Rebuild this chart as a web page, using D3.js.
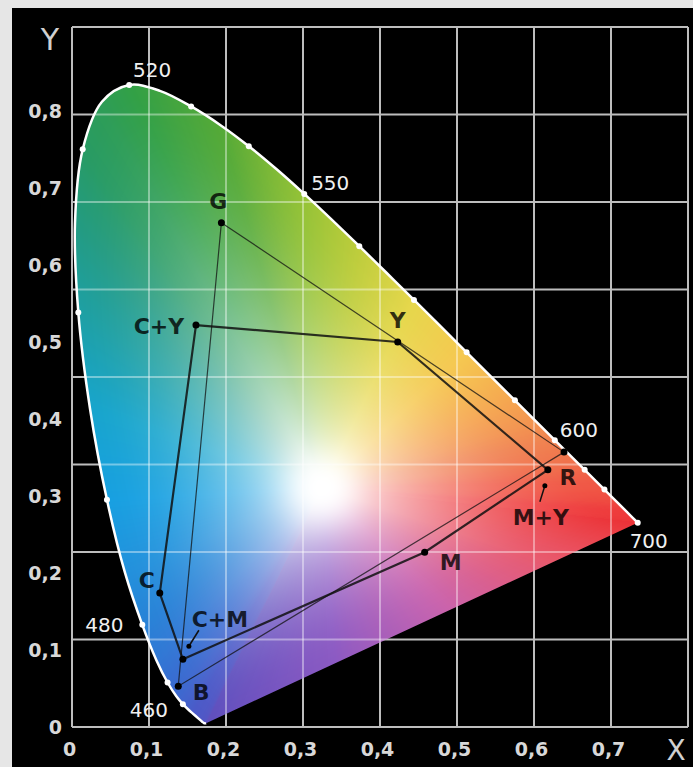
<!DOCTYPE html>
<html>
<head>
<meta charset="utf-8">
<script src="https://cdn.jsdelivr.net/npm/d3@7"></script>
<style>
    body { margin: 0; background: #e6e6e6; }
    svg { display: block; font-family: "DejaVu Sans", Verdana, sans-serif; }
    .tick text { fill: #d8d8d8; font-size: 19px; font-weight: bold; font-family: "DejaVu Sans", Verdana, sans-serif; }
    .wave { fill: #f0f0f0; font-size: 20px; }
    .vname { font-size: 22px; font-weight: bold; fill: #000; fill-opacity: 0.78; }
</style>
</head>
<body>
<svg id="chart"></svg>
<script>
// spectral locus (CIE 1931, 2 deg) - wavelength, x, y
var locusNm = [380, 390, 400, 410, 420, 430, 440, 450, 455, 460, 465, 470, 475, 480, 485, 490, 495, 500, 505, 510,
    515, 520, 525, 530, 535, 540, 545, 550, 555, 560, 565, 570, 575, 580, 585, 590, 595, 600, 605, 610,
    615, 620, 630, 640, 650, 660, 680, 700];
var locusX = [0.1741, 0.1738, 0.1733, 0.1726, 0.1714, 0.1689, 0.1644, 0.1566, 0.1510, 0.1440, 0.1355, 0.1241, 0.1096, 0.0913, 0.0687, 0.0454, 0.0235, 0.0082, 0.0039, 0.0139,
    0.0389, 0.0743, 0.1142, 0.1547, 0.1929, 0.2296, 0.2658, 0.3016, 0.3373, 0.3731, 0.4087, 0.4441, 0.4788, 0.5125, 0.5448, 0.5752, 0.6029, 0.6270, 0.6482, 0.6658,
    0.6801, 0.6915, 0.7079, 0.7190, 0.7260, 0.7300, 0.7334, 0.7347];
var locusY = [0.0050, 0.0049, 0.0048, 0.0048, 0.0051, 0.0069, 0.0109, 0.0177, 0.0227, 0.0297, 0.0399, 0.0578, 0.0868, 0.1327, 0.2007, 0.2950, 0.4127, 0.5384, 0.6548, 0.7502,
    0.8120, 0.8338, 0.8262, 0.8059, 0.7816, 0.7543, 0.7243, 0.6923, 0.6589, 0.6245, 0.5896, 0.5547, 0.5202, 0.4866, 0.4544, 0.4242, 0.3965, 0.3725, 0.3514, 0.3340,
    0.3197, 0.3083, 0.2920, 0.2809, 0.2740, 0.2700, 0.2666, 0.2653];

// white dots on the locus and the wavelengths that get a label
var markNm = [460, 470, 480, 490, 500, 510, 520, 530, 540, 550, 560, 570, 580, 590, 600, 610, 620, 700];
var waveNm = [460, 480, 520, 550, 600, 700];

// printing inks (thick hexagon) and screen primaries (thin triangle)
var cmyNames = ["C+Y", "Y", "M+Y", "M", "C+M", "C"];
var cmyX = [0.161, 0.423, 0.618, 0.458, 0.144, 0.114];
var cmyY = [0.522, 0.500, 0.334, 0.227, 0.088, 0.174];
var rgbNames = ["G", "R", "B"];
var rgbX = [0.194, 0.639, 0.138];
var rgbY = [0.655, 0.357, 0.053];

// axes
var xTicks = [0, 0.1, 0.2, 0.3, 0.4, 0.5, 0.6, 0.7];
var xTickLabels = ["0", "0,1", "0,2", "0,3", "0,4", "0,5", "0,6", "0,7"];
var yTicks = [0, 0.1, 0.2, 0.3, 0.4, 0.5, 0.6, 0.7, 0.8];
var yTickLabels = ["0", "0,1", "0,2", "0,3", "0,4", "0,5", "0,6", "0,7", "0,8"];
var xGrid = [0, 0.1, 0.2, 0.3, 0.4, 0.5, 0.6, 0.7, 0.8];
var gridRows = [0, 1, 2, 3, 4, 5, 6, 7, 8];

// colours painted along the border of the diagram (style)
var edgeNm = [380, 450, 470, 480, 490, 495, 500, 505, 510, 520, 535, 550, 560, 570, 580, 590, 600, 615, 640, 700];
var edgeCol = ["#5f50be", "#4b5ac8", "#376ed2", "#2882d7", "#18a0e1", "#18a5cd", "#1ea0a5", "#239b82", "#289b64", "#32a046",
    "#55aa37", "#96c337", "#becd3c", "#e6d74b", "#f5c850", "#f5a550", "#f08250", "#f05a46", "#ee3c3c", "#eb3237"];
var purpleT = [0, 0.2, 0.45, 0.7, 1];
var purpleCol = ["#eb3237", "#e85a6e", "#c864af", "#8c5ac3", "#5f50be"];
var whitePoint = [0.325, 0.31];

var width = 693, height = 767;

var xScale = d3.scaleLinear().domain([0, 0.8]).range([72, 688]);
var yScale = d3.scaleLinear().domain([0, 0.8]).range([727, 111]);
// the horizontal grid in the picture is its own 8 rows, not tied to the y labels
var rowScale = d3.scaleLinear().domain([0, 8]).range([727, 27]);

var svg = d3.select("#chart").attr("width", width).attr("height", height);

svg.append("rect").attr("width", width).attr("height", height).attr("fill", "#e6e6e6");
svg.append("rect").attr("x", 12).attr("y", 8).attr("width", width - 12).attr("height", height - 8).attr("fill", "#000");

var locus = locusNm.map(function (d, i) { return { nm: d, x: locusX[i], y: locusY[i] }; });

var line = d3.line()
    .x(function (d) { return xScale(d.x); })
    .y(function (d) { return yScale(d.y); })
    .curve(d3.curveCatmullRom);

function drawGrid(g, color, opacity) {
    g.selectAll(".vg").data(xGrid).enter().append("line")
        .attr("x1", function (d) { return xScale(d); })
        .attr("x2", function (d) { return xScale(d); })
        .attr("y1", rowScale(8)).attr("y2", rowScale(0))
        .attr("stroke", color).attr("stroke-opacity", opacity).attr("stroke-width", 2);
    g.selectAll(".hg").data(gridRows).enter().append("line")
        .attr("x1", xScale(0)).attr("x2", xScale(0.8))
        .attr("y1", function (d) { return rowScale(d); })
        .attr("y2", function (d) { return rowScale(d); })
        .attr("stroke", color).attr("stroke-opacity", opacity).attr("stroke-width", 2);
}

//grid under the colour field
drawGrid(svg.append("g"), "#bdbdbd", 1);

svg.append("clipPath").attr("id", "locusClip")
    .append("path").attr("d", line(locus) + "Z");

// ---- colour field ----
// border vertices with a colour each: locus, then the purple line back to 380
var edgeScale = d3.scaleLinear().domain(edgeNm).range(edgeCol).interpolate(d3.interpolateLab);
var purpleScale = d3.scaleLinear().domain(purpleT).range(purpleCol).interpolate(d3.interpolateLab);
var border = locus.map(function (d) { return { x: d.x, y: d.y, c: d3.rgb(edgeScale(d.nm)) }; });
var pA = locus[locus.length - 1], pB = locus[0];
for (var s = 1; s < 30; s++) {
    var t = s / 30;
    border.push({ x: pA.x + (pB.x - pA.x) * t, y: pA.y + (pB.y - pA.y) * t, c: d3.rgb(purpleScale(t)) });
}

// for each direction from the white point: distance to the border and its colour
var nBins = 1440, binDist = [], binCol = [];
for (var k = 0; k < nBins; k++) {
    var a = k / nBins * 2 * Math.PI, ux = Math.cos(a), uy = Math.sin(a);
    var best = Infinity, bc = null;
    for (var j = 0; j < border.length; j++) {
        var P = border[j], Q = border[(j + 1) % border.length];
        var ex = Q.x - P.x, ey = Q.y - P.y;
        var den = ux * ey - uy * ex;
        if (Math.abs(den) < 1e-12) continue;
        var wx = P.x - whitePoint[0], wy = P.y - whitePoint[1];
        var sRay = (wx * ey - wy * ex) / den;
        var r = (wx * uy - wy * ux) / den;
        if (sRay > 0 && r >= 0 && r <= 1 && sRay < best) {
            best = sRay;
            bc = d3.interpolateRgb(P.c, Q.c)(r);
        }
    }
    binDist.push(best);
    binCol.push(d3.rgb(bc));
}

function fieldColor(x, y) {
    var dx = x - whitePoint[0], dy = y - whitePoint[1];
    var d = Math.sqrt(dx * dx + dy * dy);
    var a = Math.atan2(dy, dx);
    if (a < 0) a += 2 * Math.PI;
    var k = Math.round(a / (2 * Math.PI) * nBins) % nBins;
    var t = Math.min(d / binDist[k], 1);
    var f = 1 - Math.pow(1 - t, 1.8);
    var glow = Math.exp(-(d * d) / (0.045 * 0.045));
    var e = binCol[k];
    return [e.r, e.g, e.b].map(function (v) {
        var c = 255 * (1 - f) + v * f;
        return c * (1 - glow) + 255 * glow;
    });
}

var canvas = document.createElement("canvas");
canvas.width = width; canvas.height = height;
var ctx = canvas.getContext("2d");
var img = ctx.createImageData(width, height);
for (var py = 60; py < 730; py++) {
    for (var px = 68; px < 660; px++) {
        var col = fieldColor(xScale.invert(px + 0.5), yScale.invert(py + 0.5));
        var q = (py * width + px) * 4;
        img.data[q] = col[0]; img.data[q + 1] = col[1]; img.data[q + 2] = col[2]; img.data[q + 3] = 255;
    }
}
ctx.putImageData(img, 0, 0);

svg.append("image")
    .attr("href", canvas.toDataURL())
    .attr("width", width).attr("height", height)
    .attr("clip-path", "url(#locusClip)");

//grid again on top of the colours, lighter
drawGrid(svg.append("g").attr("clip-path", "url(#locusClip)"), "#fff", 0.4);

// white locus line and wavelength dots
svg.append("path")
    .datum(locus)
    .attr("d", line)
    .attr("fill", "none")
    .attr("stroke", "#fff")
    .attr("stroke-width", 2.5);

var byNm = {};
locus.forEach(function (d) { byNm[d.nm] = d; });

svg.selectAll(".mark")
    .data(markNm)
    .enter().append("circle")
    .attr("cx", function (d) { return xScale(byNm[d].x); })
    .attr("cy", function (d) { return yScale(byNm[d].y); })
    .attr("r", 3)
    .attr("fill", "#fff");

var waveOffset = { 460: [-34, 13], 480: [-38, 7], 520: [23, -8], 550: [26, -4], 600: [24, -3], 700: [11, 25] };
svg.selectAll(".wave")
    .data(waveNm)
    .enter().append("text")
    .attr("class", "wave")
    .attr("text-anchor", "middle")
    .attr("x", function (d) { return xScale(byNm[d].x) + waveOffset[d][0]; })
    .attr("y", function (d) { return yScale(byNm[d].y) + waveOffset[d][1]; })
    .text(function (d) { return d; });

// gamut outlines
var cmy = cmyNames.map(function (d, i) { return { name: d, x: cmyX[i], y: cmyY[i] }; });
var rgb = rgbNames.map(function (d, i) { return { name: d, x: rgbX[i], y: rgbY[i] }; });

var poly = d3.line()
    .x(function (d) { return xScale(d.x); })
    .y(function (d) { return yScale(d.y); });

svg.append("path")
    .attr("d", poly(rgb) + "Z")
    .attr("fill", "none")
    .attr("stroke", "#111")
    .attr("stroke-opacity", 0.75)
    .attr("stroke-width", 1.2);

svg.append("path")
    .attr("d", poly(cmy) + "Z")
    .attr("fill", "none")
    .attr("stroke", "#111")
    .attr("stroke-opacity", 0.85)
    .attr("stroke-width", 2.2);

var pts = cmy.concat(rgb);
svg.selectAll(".vtx")
    .data(pts)
    .enter().append("circle")
    .attr("cx", function (d) { return xScale(d.x); })
    .attr("cy", function (d) { return yScale(d.y); })
    .attr("r", 3.5)
    .attr("fill", "#000");

// label offsets from their points, plus the little pointers for M+Y and C+M
var nameOffset = {
    "G": [-3, -14], "C+Y": [-37, 9], "Y": [0, -14], "R": [4, 33], "M+Y": [-7, 55],
    "M": [26, 18], "C+M": [37, -32], "C": [-13, -5], "B": [23, 14]
};
svg.selectAll(".vname")
    .data(pts)
    .enter().append("text")
    .attr("class", "vname")
    .attr("text-anchor", "middle")
    .attr("x", function (d) { return xScale(d.x) + nameOffset[d.name][0]; })
    .attr("y", function (d) { return yScale(d.y) + nameOffset[d.name][1]; })
    .text(function (d) { return d.name; });

var pointer = { "M+Y": [[-8, 32], [-3, 16]], "C+M": [[16, -29], [6, -13]] };
cmy.filter(function (d) { return pointer[d.name]; }).forEach(function (d) {
    var p = pointer[d.name], ox = xScale(d.x), oy = yScale(d.y);
    svg.append("line")
        .attr("x1", ox + p[0][0]).attr("y1", oy + p[0][1])
        .attr("x2", ox + p[1][0]).attr("y2", oy + p[1][1])
        .attr("stroke", "#111").attr("stroke-width", 1.5);
    svg.append("circle")
        .attr("cx", ox + p[1][0]).attr("cy", oy + p[1][1])
        .attr("r", 2.5).attr("fill", "#000");
});

// tick labels through d3 axes (no tick marks, no domain line)
var yAxis = svg.append("g")
    .attr("transform", "translate(" + xScale(0) + ",0)")
    .call(d3.axisLeft(yScale).tickValues(yTicks).tickSize(0).tickPadding(10)
        .tickFormat(function (d, i) { return yTickLabels[i]; }));
yAxis.select(".domain").remove();

var xAxis = svg.append("g")
    .attr("transform", "translate(0," + yScale(0) + ")")
    .call(d3.axisBottom(xScale).tickValues(xTicks).tickSize(0).tickPadding(16)
        .tickFormat(function (d, i) { return xTickLabels[i]; }));
xAxis.select(".domain").remove();
xAxis.selectAll("text").attr("dx", -3);

svg.append("text")
    .attr("x", 50).attr("y", 50)
    .attr("text-anchor", "middle")
    .attr("fill", "#d0d0d0")
    .style("font-size", "30px")
    .text("Y");

svg.append("text")
    .attr("x", 676).attr("y", 760)
    .attr("text-anchor", "middle")
    .attr("fill", "#d0d0d0")
    .style("font-size", "28px")
    .text("X");
</script>
</body>
</html>
